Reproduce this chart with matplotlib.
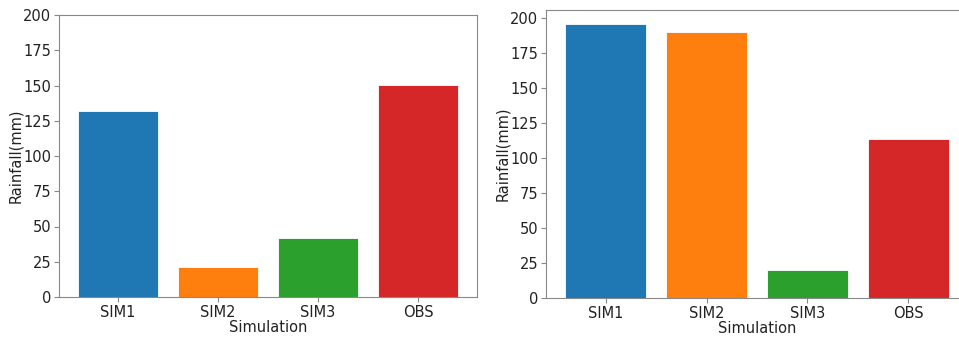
import numpy as np
import matplotlib
matplotlib.use("Agg")
import matplotlib.pyplot as plt

categories = ["SIM1", "SIM2", "SIM3", "OBS"]
rain_left = [132, 21.5, 42, 150.5]
rain_right = [196, 190, 20, 113.5]
colors = ["#1f77b4", "#ff7f0e", "#2ca02c", "#d62728"]

plt.rcParams["font.family"] = ["DejaVu Sans"]
plt.rcParams["font.size"] = 10.5
plt.rcParams["text.color"] = "#222222"
plt.rcParams["axes.labelcolor"] = "#222222"
plt.rcParams["xtick.color"] = "#888888"
plt.rcParams["ytick.color"] = "#888888"
plt.rcParams["xtick.labelcolor"] = "#222222"
plt.rcParams["ytick.labelcolor"] = "#222222"

W, H = 959, 337
fig = plt.figure(figsize=(W / 100, H / 100), dpi=100)

def px_axes(left, right, top, bottom):
    return fig.add_axes([left / W, 1 - bottom / H, (right - left) / W, (bottom - top) / H])

ax1 = px_axes(59, 477, 15, 297)
ax2 = px_axes(546, 968, 10, 298)

for ax, vals in [(ax1, rain_left), (ax2, rain_right)]:
    x = np.arange(len(categories))
    ax.bar(x, vals, color=colors, edgecolor="white", linewidth=0.6)
    ax.set_xticks(x)
    ax.set_xticklabels(categories)
    ax.set_yticks(np.arange(0, 201, 25))
    ax.tick_params(pad=2)
    ax.set_xlabel("Simulation", labelpad=0.5)
    ax.set_ylabel("Rainfall(mm)", labelpad=0)
    for s in ax.spines.values():
        s.set_color("#888888")

ax1.set_ylim(0, 200)

fig.savefig("out.png", dpi=100)
